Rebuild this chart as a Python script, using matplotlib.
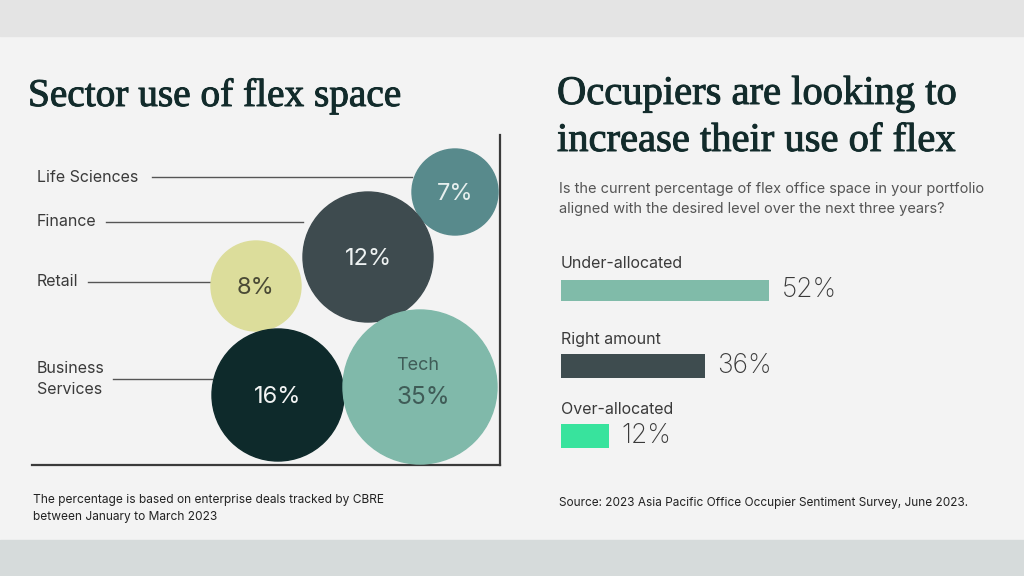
import matplotlib
matplotlib.use("Agg")
import matplotlib.pyplot as plt
import matplotlib.patheffects as pe
from matplotlib.patches import Circle, Rectangle

W, H = 1024, 576

# left panel: sector bubbles
sectors = ["Life Sciences", "Finance", "Retail", "Business\nServices", "Tech"]
shares = [7, 12, 8, 16, 35]
# bubble centres / radii (axes units = pixels)
bub_x = [423, 336, 224, 246, 388]
bub_y = [273, 208, 179, 70, 78]
bub_r = [43, 65, 45, 66, 77]
bub_colors = ["#588a8c", "#3e4b4f", "#dcdd9b", "#0e2a2b", "#80b9aa"]
bub_text = ["#e6efee", "#eef2f2", "#4a4a35", "#f2f4f4", "#3f5c57"]

# right panel: allocation survey
alloc = ["Under-allocated", "Right amount", "Over-allocated"]
alloc_pct = [52, 36, 12]
alloc_colors = ["#80bba9", "#3e4c4f", "#38e39d"]

sans = ["Inter", "DejaVu Sans"]
serif = ["Liberation Serif", "DejaVu Serif"]
plt.rcParams["font.family"] = sans

fig = plt.figure(figsize=(W / 100, H / 100), dpi=100)
fig.patch.set_facecolor("#f3f3f3")


def fx(x):
    return x / W


def fy(y):
    return 1 - y / H


# background bands
fig.patches.append(Rectangle((0, fy(36)), 1, 36 / H, transform=fig.transFigure,
                             color="#e4e4e4", zorder=0))
fig.patches.append(Rectangle((0, 0), 1, 36 / H, transform=fig.transFigure,
                             color="#d6dbdb", zorder=0))

# ---- bubbles
ax1 = fig.add_axes([fx(32), fy(465), 468 / W, 330 / H])
ax1.set_xlim(0, 468)
ax1.set_ylim(0, 330)
ax1.set_facecolor("none")
for s in ["top", "left"]:
    ax1.spines[s].set_visible(False)
for s in ["bottom", "right"]:
    ax1.spines[s].set_color("#3a3a3a")
    ax1.spines[s].set_linewidth(1.6)
ax1.set_xticks([])
ax1.set_yticks([])

label_y = [288, 243, 183, 86, None]
line_x0 = [120, 74, 56, 81, None]
for i, name in enumerate(sectors):
    ax1.add_patch(Circle((bub_x[i], bub_y[i]), bub_r[i], color=bub_colors[i], zorder=3))
    if name == "Tech":
        ax1.text(bub_x[i] - 2, bub_y[i] + 22, name, ha="center", va="center",
                 fontsize=13, color=bub_text[i], zorder=4)
        ax1.text(bub_x[i] + 3, bub_y[i] - 11, f"{shares[i]}%", ha="center", va="center",
                 fontsize=17.5, color=bub_text[i], zorder=4)
    else:
        ax1.text(bub_x[i], bub_y[i] - 2, f"{shares[i]}%", ha="center", va="center",
                 fontsize=17, color=bub_text[i], zorder=4)
        ax1.text(5, label_y[i], name, ha="left", va="center", fontsize=11.5,
                 color="#3a3a3a", linespacing=1.45)
        ax1.plot([line_x0[i], bub_x[i] - bub_r[i]], [label_y[i]] * 2,
                 color="#555555", lw=1.0, zorder=2)

# slightly heavier serif for the headlines
bold_fx = [pe.withStroke(linewidth=0.7, foreground="#122b2b")]
fig.text(fx(28), fy(106), "Sector use of flex space", family=serif,
         fontsize=28.3, color="#122b2b", va="baseline", path_effects=bold_fx)
fig.text(fx(33), fy(503), "The percentage is based on enterprise deals tracked by CBRE",
         fontsize=8.6, color="#222222", va="baseline")
fig.text(fx(33), fy(520), "between January to March 2023",
         fontsize=8.6, color="#222222", va="baseline")

# ---- bars
ax2 = fig.add_axes([fx(561), fy(460), 400 / W, 220 / H])
ax2.set_xlim(0, 100)
ax2.set_ylim(460, 240)
ax2.axis("off")
bar_y = [290, 366, 436]
bar_h = [21, 24, 24]
ax2.barh(bar_y, alloc_pct, height=bar_h, color=alloc_colors, left=0)
for i, name in enumerate(alloc):
    ax2.text(0, bar_y[i] - 27, name, ha="left", va="center", fontsize=11.5, color="#3a3a3a")
    ax2.annotate(f"{alloc_pct[i]}%", (alloc_pct[i], bar_y[i]), xytext=(9, 0),
                 textcoords="offset points", ha="left", va="center",
                 fontsize=19, color="#3a3a3a", fontweight="light")

fig.text(fx(557), fy(104), "Occupiers are looking to", family=serif,
         fontsize=29.2, color="#122b2b", va="baseline", path_effects=bold_fx)
fig.text(fx(557), fy(151), "increase their use of flex", family=serif,
         fontsize=29.2, color="#122b2b", va="baseline", path_effects=bold_fx)
fig.text(fx(559), fy(193), "Is the current percentage of flex office space in your portfolio",
         fontsize=10.5, color="#555555", va="baseline")
fig.text(fx(559), fy(213), "aligned with the desired level over the next three years?",
         fontsize=10.5, color="#555555", va="baseline")
fig.text(fx(559), fy(506), "Source: 2023 Asia Pacific Office Occupier Sentiment Survey, June 2023.",
         fontsize=8.5, color="#222222", va="baseline")

fig.savefig("out.png", dpi=100, facecolor=fig.get_facecolor())
